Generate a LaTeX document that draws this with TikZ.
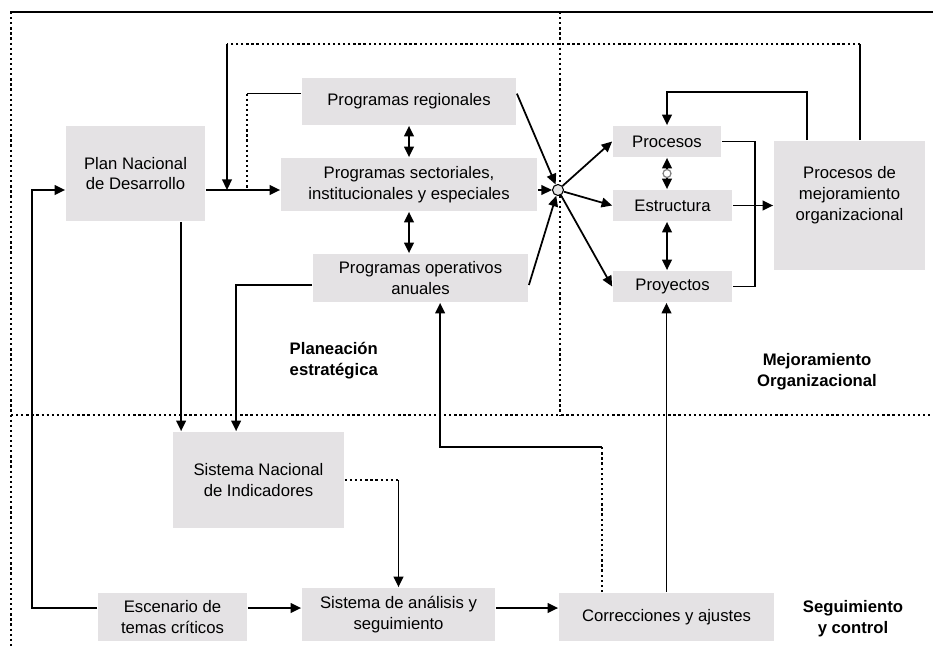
\documentclass[tikz,border=0pt]{standalone}
\usepackage{fontspec}
\setmainfont{Liberation Sans}
\usetikzlibrary{arrows.meta,calc}
\definecolor{boxgray}{RGB}{228,226,228}
\tikzset{block/.style={fill=boxgray, inner sep=0pt, align=center, font=\fontsize{9.5}{11.9}\selectfont},
  boxsize/.style 2 args={minimum width=#1*0.02cm, minimum height=#2*0.02cm},
  dotline/.style={line width=1.3pt, dash pattern=on 1.3pt off 1.6pt},
  region/.style={font=\fontsize{9.5}{11.9}\selectfont\bfseries, align=center}}

\begin{document}
\begin{tikzpicture}[x=0.02cm, y=-0.02cm, line width=1pt, >={Triangle[length=6pt,width=5.5pt]}]
\useasboundingbox (0,0) rectangle (933,649);
\draw (10,12) -- (933,12);
\draw[dotline] (11,12) -- (11,649);
\draw[dotline] (560,12) -- (560,415);
\draw[dotline] (11,415) -- (933,415);

\node[block, boxsize={139}{95}] (plan) at (135.5,173.5) {Plan Nacional\\de Desarrollo};
\node[block, boxsize={214}{47}] (reg) at (409,101.5) {Programas regionales};
\node[block, boxsize={256}{53}] (sect) at (409,184.5) {Programas sectoriales,\\institucionales y especiales};
\node[block, boxsize={215}{48}] (oper) at (420.5,278) {Programas operativos\\anuales};
\node[block, boxsize={108}{31}] (proc) at (667,141.5) {Procesos};
\node[block, boxsize={119}{31}] (estr) at (672.5,205.5) {Estructura};
\node[block, boxsize={119}{31}] (proy) at (672.5,286.5) {Proyectos};
\node[block, boxsize={151}{129},
  label={[block, fill=none, yshift=0.2cm]center:Procesos de\\mejoramiento\\organizacional}] (mej) at (849.5,205.5) {};
\node[block, boxsize={171}{96}] (sni) at (258.5,480) {Sistema Nacional\\de Indicadores};
\node[block, boxsize={149}{48}] (esc) at (172.5,617) {Escenario de\\temas críticos};
\node[block, boxsize={193}{53}] (anal) at (398.5,614.5) {Sistema de análisis y\\seguimiento};
\node[block, boxsize={215}{48}] (corr) at (666.5,617) {Correcciones y ajustes};
\node[circle, draw, fill=gray!20, inner sep=0pt, minimum size=0.22cm, line width=0.6pt] (hub) at (558,190) {};

\node[region, align=left, anchor=west] (pe) at (283,361) {Planeación\\estratégica};
\node[region] (mo) at (817,372) {Mejoramiento\\Organizacional};
\node[region] (sc) at (853,619) {Seguimiento\\y control};

\coordinate (tl) at (227,44);
\coordinate (tr) at (860,44);
\coordinate (row) at (0,608);

\draw[->] (plan.east |- hub) -- (sect.west |- hub);
\draw (mej.north -| tr) -- (tr);
\draw[dotline] (tr) -- (tl);
\draw[->] (tl) -- (tl |- hub);
\draw ([yshift=4.5pt]reg.west) -- ++(-54,0) coordinate (rl);
\draw[dotline] (rl) -- (rl |- hub);

\draw[<->] (reg.south) -- (sect.north);
\draw[<->] (sect.south) -- (sect.south |- oper.north);
\draw[->] ([yshift=4.5pt]reg.east) -- (hub);
\draw[->] (sect.east |- hub) -- (hub);
\draw[->] ([yshift=-4pt]oper.east) -- (hub);
\foreach \b in {proc, estr, proy}
  \draw[->] (hub) -- (\b.west);

\draw[<->] (proc.south) -- (proc.south |- estr.north);
\node[circle, draw=gray, fill=white, inner sep=0pt, minimum size=0.16cm, line width=0.7pt] (ring)
  at ($(proc.south)!0.5!(proc.south |- estr.north)$) {};
\draw[<->] (proc.south |- estr.south) -- (proc.south |- proy.north);
\draw (proc.east) -- ++(33,0) |- (proy.east);
\draw[->] (estr.east) -- (mej.west);
\draw[->] ($(mej.north west)+(34,0)$) -- ++(0,-48) -| (proc.north);

\draw[->] ($(plan.south west)+(116,0)$) -- ($(sni.north west)+(9,0)$);
\draw[->] ([yshift=-4pt]oper.west) -| ($(sni.north west)+(64,0)$);
\draw[dotline] (sni.east) -- (sni.east -| anal.north);
\draw[->] (sni.east -| anal.north) -- (anal.north);

\draw[->] (esc.west |- row) -- ++(-65,0) |- (plan.west |- hub);
\draw[->] (esc.east |- row) -- (anal.west |- row);
\draw[->] (anal.east |- row) -- (corr.west |- row);
\draw[dotline] ($(corr.north west)+(44,0)$) -- ++(0,-145) coordinate (cb);
\draw[->] (cb) -| ($(oper.south west)+(128,0)$);
\draw[->] (corr.north) -- (corr.north |- proy.south);
\end{tikzpicture}
\end{document}
